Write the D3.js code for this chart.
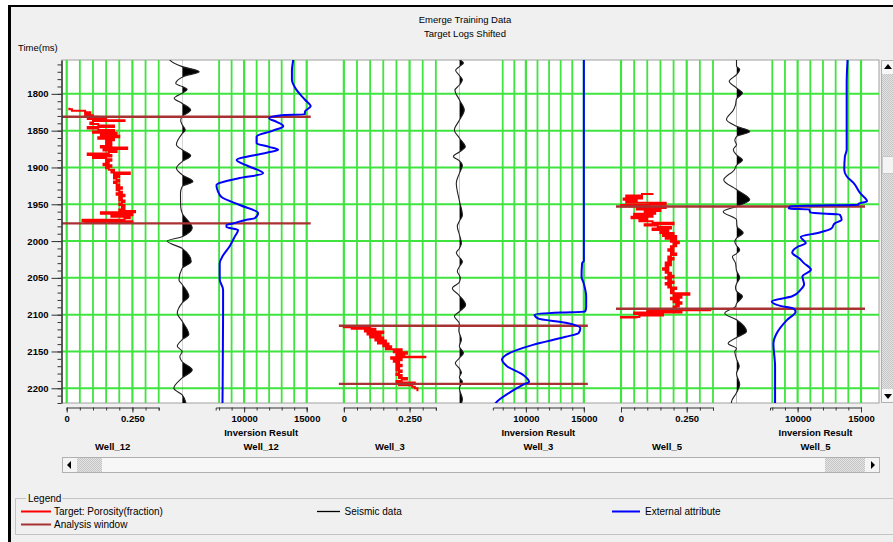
<!DOCTYPE html>
<html><head><meta charset="utf-8">
<script src="https://cdn.jsdelivr.net/npm/d3@7"></script>
<style>body{margin:0;background:#fff}svg{display:block}text{font-family:"Liberation Sans",Arial,sans-serif}</style>
</head><body><svg id="c" width="893" height="542"></svg>
<script>
// ---------------- DATA ----------------
const titleLines = ["Emerge Training Data", "Target Logs Shifted"];
const wells = ["Well_12", "Well_3", "Well_5"];
const timeDomain = [1754, 2220];
const timeTicks = [1800, 1850, 1900, 1950, 2000, 2050, 2100, 2150, 2200];
const porosityDomain = [0, 0.35];
const porosityGrid = [0, 0.05, 0.10, 0.15, 0.20, 0.25, 0.30, 0.35];
const porosityLabels = [0, 0.25];
const invMin = [7730, 7150, 7820];
const invMax = 15000;
const invGrid = [8000, 9000, 10000, 11000, 12000, 13000, 14000, 15000];
const invLabels = [10000, 15000];
const analysisWindows = [[1831, 1976], [2115, 2194], [1953, 2092]];
const legendItems = ["Target: Porosity(fraction)", "Analysis window", "Seismic data", "External attribute"];

// porosity [time, fraction]
const poro12 = [[1819,0.01],[1821,0.02],[1823,0.07],[1825,0.09],[1827,0.07],[1829,0.10],[1831,0.12],[1832,0.08],[1834,0.15],[1836,0.22],[1837,0.10],[1839,0.09],[1841,0.12],[1843,0.18],[1845,0.08],[1847,0.12],[1849,0.18],[1851,0.10],[1853,0.19],[1855,0.13],[1857,0.20],[1859,0.12],[1861,0.18],[1863,0.15],[1865,0.17],[1867,0.15],[1869,0.17],[1871,0.13],[1873,0.23],[1875,0.14],[1877,0.19],[1879,0.16],[1881,0.08],[1883,0.17],[1885,0.10],[1887,0.15],[1889,0.17],[1891,0.15],[1893,0.16],[1895,0.14],[1897,0.17],[1899,0.15],[1901,0.16],[1903,0.18],[1905,0.17],[1907,0.24],[1909,0.18],[1911,0.20],[1913,0.18],[1915,0.19],[1917,0.20],[1919,0.18],[1921,0.19],[1923,0.20],[1925,0.19],[1927,0.21],[1929,0.19],[1931,0.20],[1933,0.21],[1935,0.19],[1937,0.22],[1939,0.20],[1941,0.21],[1943,0.20],[1945,0.22],[1947,0.21],[1949,0.20],[1951,0.22],[1953,0.21],[1955,0.22],[1957,0.20],[1959,0.26],[1961,0.13],[1963,0.25],[1965,0.17],[1967,0.24],[1969,0.22],[1971,0.06],[1973,0.25],[1974,0.07],[1976,0.07]];
const poro3 = [[2116,0.0],[2117,0.10],[2118,0.03],[2119,0.12],[2121,0.08],[2123,0.15],[2125,0.09],[2127,0.14],[2129,0.10],[2131,0.15],[2133,0.12],[2135,0.16],[2137,0.13],[2139,0.17],[2141,0.15],[2143,0.18],[2145,0.16],[2147,0.22],[2149,0.19],[2151,0.24],[2153,0.20],[2155,0.23],[2157,0.31],[2158,0.18],[2160,0.22],[2162,0.19],[2164,0.21],[2166,0.20],[2168,0.22],[2170,0.20],[2172,0.21],[2174,0.20],[2176,0.22],[2178,0.21],[2180,0.20],[2182,0.22],[2184,0.21],[2186,0.24],[2188,0.22],[2190,0.20],[2192,0.27],[2194,0.21],[2196,0.26],[2198,0.27],[2200,0.28],[2204,0.28]];
const poro5 = [[1935,0.12],[1936,0.08],[1938,0.02],[1940,0.08],[1942,0.01],[1944,0.06],[1946,0.02],[1948,0.17],[1950,0.11],[1951,0.0],[1953,0.17],[1955,0.06],[1957,0.15],[1959,0.09],[1961,0.13],[1963,0.05],[1965,0.12],[1967,0.04],[1969,0.10],[1971,0.07],[1973,0.12],[1975,0.20],[1977,0.09],[1979,0.14],[1981,0.19],[1983,0.12],[1985,0.18],[1987,0.15],[1989,0.20],[1991,0.16],[1993,0.21],[1995,0.17],[1997,0.21],[1999,0.19],[2001,0.22],[2003,0.20],[2005,0.21],[2007,0.19],[2009,0.20],[2011,0.18],[2013,0.20],[2015,0.19],[2017,0.21],[2019,0.19],[2021,0.18],[2023,0.20],[2025,0.18],[2027,0.19],[2029,0.17],[2031,0.19],[2033,0.17],[2035,0.18],[2037,0.16],[2039,0.18],[2041,0.17],[2043,0.19],[2045,0.18],[2047,0.20],[2049,0.17],[2051,0.19],[2053,0.18],[2055,0.20],[2057,0.17],[2059,0.19],[2061,0.18],[2063,0.21],[2065,0.19],[2067,0.20],[2069,0.19],[2071,0.26],[2073,0.20],[2075,0.23],[2077,0.19],[2079,0.22],[2081,0.20],[2083,0.23],[2085,0.21],[2087,0.22],[2089,0.20],[2091,0.21],[2093,0.34],[2094,0.10],[2096,0.23],[2097,0.05],[2099,0.16],[2101,0.07],[2103,0.0],[2104,0.06],[2105,0.06]];

// seismic [time, normalized amplitude]
const seis12 = [[1750,-0.8],[1753,-0.76],[1763,0],[1770,1.0],[1776,0.12],[1786,-0.38],[1790,0],[1794,0.29],[1799,0],[1806,-0.47],[1813,0],[1822,0.5],[1831,0],[1836,-0.09],[1842,0],[1849,0.18],[1854,0],[1869,-0.34],[1876,0],[1884,0.5],[1892,0],[1901,-0.34],[1910,0],[1919,0.63],[1926,0],[1935,-0.1],[1953,-0.09],[1962,0],[1982,0.59],[1994,0],[2000,-0.88],[2010,0],[2028,0.53],[2037,0],[2053,-0.19],[2059,0],[2075,0.39],[2084,0],[2098,-0.29],[2109,0],[2127,0.39],[2134,0],[2143,-0.29],[2150,0],[2157,-0.14],[2164,0],[2175,0.59],[2186,0],[2200,-0.49],[2209,0],[2220,0.22]];
const seis3 = [[1750,-0.1],[1753,0],[1758,0.24],[1763,0],[1768,-0.22],[1775,0],[1781,0.18],[1788,0],[1795,-0.26],[1808,0],[1822,0.29],[1836,0],[1849,-0.29],[1860,0],[1872,0.35],[1879,0],[1885,-0.35],[1891,0],[1897,0.18],[1908,0],[1921,-0.18],[1945,0],[1965,0.18],[1973,0],[1980,-0.12],[1991,0],[2003,0.12],[2010,0],[2016,-0.18],[2022,0],[2028,0.18],[2035,0],[2041,-0.12],[2050,0.06],[2056,0],[2064,-0.41],[2074,0],[2087,0.37],[2096,0],[2102,-0.29],[2112,0],[2122,-0.03],[2134,0.12],[2143,0],[2152,0.24],[2159,0],[2166,-0.24],[2173,0],[2179,0.12],[2185,0],[2191,0.18],[2200,0],[2215,0.18],[2222,0.1]];
const seis5 = [[1750,0],[1762,0],[1767,0.19],[1774,0],[1783,-0.43],[1792,0],[1799,0.35],[1807,0],[1815,-0.06],[1822,-0.18],[1835,-0.59],[1844,0],[1851,0.78],[1858,0],[1863,-0.1],[1869,0],[1876,-0.19],[1883,0],[1890,0.35],[1897,0],[1903,-0.12],[1917,-0.75],[1930,0],[1944,0.78],[1953,0],[1960,-0.78],[1971,0],[1980,0.03],[1989,0.39],[1996,0],[2001,-0.1],[2006,0],[2012,0.19],[2017,0],[2021,-0.24],[2030,-0.06],[2040,0],[2050,0.19],[2058,0],[2063,-0.06],[2068,0],[2075,0.35],[2085,0],[2089,-0.06],[2098,-0.69],[2107,0],[2123,0.59],[2131,0],[2139,-0.49],[2146,0],[2150,-0.1],[2160,0],[2170,0.16],[2180,0],[2195,0.19],[2206,0],[2218,-0.29],[2222,-0.3]];

// external attribute [time, value]
const ext12 = [[1750,13950],[1753,13930],[1768,13820],[1781,13820],[1795,14200],[1808,14860],[1817,15320],[1824,14860],[1828,14850],[1829,13000],[1833,12000],[1838,12600],[1844,13130],[1850,12300],[1858,11000],[1867,11000],[1872,12000],[1876,12720],[1880,11800],[1890,9400],[1898,10300],[1908,11520],[1915,9500],[1924,7790],[1932,7900],[1940,8190],[1951,9650],[1962,11120],[1969,10850],[1971,10190],[1976,9100],[1978,8590],[1981,8590],[1985,9520],[1994,9250],[2007,8850],[2020,8300],[2030,8050],[2052,8050],[2066,8320],[2098,8320],[2222,8270]];
const ext3 = [[1750,15000],[2027,15000],[2030,14850],[2048,14800],[2058,15000],[2075,15200],[2090,15200],[2096,15100],[2097,13010],[2100,10750],[2105,11030],[2111,13430],[2118,14700],[2125,14550],[2130,13430],[2141,10610],[2154,8370],[2161,7940],[2170,8370],[2182,9770],[2191,10270],[2195,9770],[2204,8790],[2218,7520],[2222,7300]];
const ext5 = [[1750,13950],[1786,13870],[1876,13870],[1885,13730],[1903,13680],[1912,13870],[1921,14410],[1935,14940],[1946,15480],[1949,14810],[1951,14800],[1951.5,12520],[1953,9400],[1956,9300],[1957,10900],[1961,11000],[1962,11310],[1964,13330],[1971,13470],[1976,12930],[1983,12660],[1989,11590],[1994,10240],[2003,10640],[2007,10100],[2016,9570],[2023,10100],[2030,10500],[2039,11050],[2048,10380],[2059,10510],[2066,10240],[2075,9570],[2082,7960],[2088,8630],[2092,9700],[2096,9840],[2107,9170],[2125,8360],[2139,8090],[2170,8220],[2222,8220]];

const porosity = [poro12, poro3, poro5];
const seismic = [seis12, seis3, seis5];
const external = [ext12, ext3, ext5];

// ---------------- DRAW ----------------
const W = 893, H = 542;
const svg = d3.select("#c");
const plot = {l: 62, t: 60, r: 879, b: 403};
const GREEN = "#3fe43f", RED = "#ff0000", BLUE = "#0000ff", WIN = "#a83232";
const FONT = "'Liberation Sans', Arial, sans-serif";

const defs = svg.append("defs");
defs.append("clipPath").attr("id", "plotClip").append("rect")
  .attr("x", plot.l).attr("y", plot.t).attr("width", plot.r - plot.l).attr("height", plot.b - plot.t);
const pat = defs.append("pattern").attr("id", "dots").attr("width", 2).attr("height", 2).attr("patternUnits", "userSpaceOnUse");
pat.append("rect").attr("width", 2).attr("height", 2).attr("fill", "#e4e4e4");
pat.append("rect").attr("width", 1).attr("height", 1).attr("fill", "#c4c4c4");
pat.append("rect").attr("x", 1).attr("y", 1).attr("width", 1).attr("height", 1).attr("fill", "#c4c4c4");

// window background and border
svg.append("rect").attr("width", W).attr("height", H).attr("fill", "#ffffff");
svg.append("rect").attr("x", 8).attr("y", 5).attr("width", W - 8).attr("height", H - 5).attr("fill", "#f0f0f0");
svg.append("rect").attr("x", 8).attr("y", 5).attr("width", 3).attr("height", H - 5).attr("fill", "#000");
svg.append("rect").attr("x", 8).attr("y", 5).attr("width", W - 8).attr("height", 2).attr("fill", "#000");

// title
svg.append("g").selectAll("text").data(titleLines).join("text")
  .attr("x", 465).attr("y", (d, i) => 22.5 + i * 14).attr("text-anchor", "middle")
  .attr("font-size", 9.5).attr("fill", "#000").text(d => d);
svg.append("text").attr("x", 18).attr("y", 51).attr("font-size", 9.5).text("Time(ms)");

// plot area
svg.append("rect").attr("x", plot.l).attr("y", plot.t).attr("width", plot.r - plot.l).attr("height", plot.b - plot.t)
  .attr("fill", "#fff").attr("stroke", "#a0a0a0").attr("stroke-width", 1);

const y = d3.scaleLinear().domain(timeDomain).range([plot.t, plot.b]);
const panelX = d3.scalePoint().domain(wells).range([66.7, 621]);

const gPlot = svg.append("g").attr("clip-path", "url(#plotClip)");
const gGrid = gPlot.append("g");
gGrid.selectAll("line.h").data(timeTicks).join("line").attr("class", "h")
  .attr("x1", plot.l).attr("x2", plot.r).attr("y1", d => y(d)).attr("y2", d => y(d))
  .attr("stroke", GREEN).attr("stroke-width", 2);

// left axis
const gy = svg.append("g").attr("transform", `translate(${plot.l - 0.5},0)`);
gy.call(d3.axisLeft(y).tickValues(d3.range(1760, 2221, 10)).tickSize(4).tickSizeOuter(0).tickFormat(""));
gy.append("g").call(d3.axisLeft(y).tickValues(timeTicks).tickSize(10).tickPadding(3).tickSizeOuter(0).tickFormat(d3.format("d")))
  .call(g => g.select(".domain").remove());
gy.selectAll("text").attr("font-family", FONT).attr("font-size", 9.5).attr("font-weight", "bold").attr("fill", "#000");
gy.selectAll("line,path").attr("stroke", "#333");
gy.select(".domain").attr("stroke-width", 1.5);

const AXIS_Y = 407.5;
const fmtP = d => d === 0 ? "0" : d3.format(".3f")(d);

wells.forEach((w, i) => {
  const x0 = panelX(w);
  const xp = d3.scaleLinear().domain(porosityDomain).range([x0, x0 + 92]);
  const xi = d3.scaleLinear().domain([invMin[i], invMax]).range([x0 + 149, x0 + 240]);
  const base = x0 + 115.5;
  const xs = d3.scaleLinear().domain([-1, 1]).range([base - 17, base + 17]);

  // vertical grid
  gGrid.append("g").selectAll("line").data(porosityGrid).join("line")
    .attr("x1", d => xp(d)).attr("x2", d => xp(d)).attr("y1", plot.t).attr("y2", plot.b)
    .attr("stroke", GREEN).attr("stroke-width", d => (d === 0 || d === 0.25) ? 2.2 : 1.8);
  gGrid.append("g").selectAll("line").data(invGrid).join("line")
    .attr("x1", d => xi(d)).attr("x2", d => xi(d)).attr("y1", plot.t).attr("y2", plot.b)
    .attr("stroke", GREEN).attr("stroke-width", d => (d === 10000 || d === 15000) ? 2.2 : 1.8);

  // seismic wiggle
  const cid = "sc" + i;
  defs.append("clipPath").attr("id", cid).append("rect")
    .attr("x", base).attr("y", plot.t).attr("width", 40).attr("height", plot.b - plot.t);
  const area = d3.area().curve(d3.curveMonotoneY).y(d => y(d[0])).x0(base).x1(d => xs(d[1]));
  gPlot.append("path").datum(seismic[i]).attr("d", area).attr("fill", "#000").attr("clip-path", `url(#${cid})`);
  const sline = d3.line().curve(d3.curveMonotoneY).y(d => y(d[0])).x(d => xs(d[1]));
  gPlot.append("path").datum(seismic[i]).attr("d", sline).attr("fill", "none").attr("stroke", "#222").attr("stroke-width", 1.1);

  // porosity
  const pline = d3.line().curve(d3.curveStepBefore).y(d => y(d[0])).x(d => xp(d[1]));
  gPlot.append("path").datum(porosity[i]).attr("d", pline).attr("fill", "none")
    .attr("stroke", RED).attr("stroke-width", 2);

  // analysis window
  gPlot.append("g").selectAll("line").data(analysisWindows[i]).join("line")
    .attr("x1", x0 - 5).attr("x2", x0 + 244).attr("y1", d => y(d)).attr("y2", d => y(d))
    .attr("stroke", WIN).attr("stroke-width", 2.4);

  // external attribute
  const eline = d3.line().curve(d3.curveMonotoneY).y(d => y(d[0])).x(d => xi(d[1]));
  gPlot.append("path").datum(external[i]).attr("d", eline).attr("fill", "none")
    .attr("stroke", BLUE).attr("stroke-width", 2);

  // bottom axes
  const ga = svg.append("g").attr("transform", `translate(0,${AXIS_Y})`);
  ga.append("g").call(d3.axisBottom(xp).tickValues(porosityGrid).tickSize(3).tickSizeOuter(3).tickFormat(""));
  ga.append("g").call(d3.axisBottom(xp).tickValues(porosityLabels).tickSize(5).tickPadding(3).tickFormat(fmtP))
    .call(g => g.select(".domain").remove());
  ga.append("g").call(d3.axisBottom(xi).tickValues(invGrid).tickSize(3).tickSizeOuter(3).tickFormat(""));
  ga.append("g").call(d3.axisBottom(xi).tickValues(invLabels).tickSize(5).tickPadding(3).tickFormat(d3.format("d")))
    .call(g => g.select(".domain").remove());
  ga.selectAll("text").attr("font-family", FONT).attr("font-size", 9.5).attr("font-weight", "bold").attr("fill", "#000");
  ga.selectAll("line,path").attr("stroke", "#333");

  const cp = (porosityDomain[0] + porosityDomain[1]) / 2;
  const ci = (invMin[i] + invMax) / 2;
  svg.append("text").attr("x", xi(ci)).attr("y", 435.5).attr("text-anchor", "middle")
    .attr("font-size", 9.5).attr("font-weight", "bold").text("Inversion Result");
  svg.append("text").attr("x", xp(cp)).attr("y", 449.5).attr("text-anchor", "middle")
    .attr("font-size", 9.5).attr("font-weight", "bold").text(w);
  svg.append("text").attr("x", xi(ci)).attr("y", 449.5).attr("text-anchor", "middle")
    .attr("font-size", 9.5).attr("font-weight", "bold").text(w);
});

// horizontal scrollbar
const hs = svg.append("g");
hs.append("rect").attr("x", 62.5).attr("y", 457.5).attr("width", 817).attr("height", 15).attr("fill", "#f7f7f7").attr("stroke", "#b0b0b0");
hs.append("rect").attr("x", 63).attr("y", 458).attr("width", 14).attr("height", 14).attr("fill", "#f4f4f4");
hs.append("rect").attr("x", 77).attr("y", 458).attr("width", 25).attr("height", 14).attr("fill", "url(#dots)");
hs.append("rect").attr("x", 825).attr("y", 458).attr("width", 40).attr("height", 14).attr("fill", "url(#dots)");
hs.append("rect").attr("x", 865).attr("y", 458).attr("width", 14).attr("height", 14).attr("fill", "#f4f4f4");
hs.append("path").attr("d", "M67,465 L71,461 L71,469 Z").attr("fill", "#000");
hs.append("path").attr("d", "M875,465 L871,461 L871,469 Z").attr("fill", "#000");

// vertical scrollbar
const vs = svg.append("g");
vs.append("rect").attr("x", 881.5).attr("y", 60.5).attr("width", 14).attr("height", 342).attr("fill", "#f7f7f7").attr("stroke", "#b0b0b0");
vs.append("rect").attr("x", 882).attr("y", 74).attr("width", 12).attr("height", 82).attr("fill", "url(#dots)");
vs.append("rect").attr("x", 882.5).attr("y", 156.5).attr("width", 11).attr("height", 17).attr("fill", "#f4f4f4").attr("stroke", "#c8c8c8");
vs.append("rect").attr("x", 882).attr("y", 174).attr("width", 12).attr("height", 215).attr("fill", "url(#dots)");
vs.append("path").attr("d", "M888,64 L884,69 L892,69 Z").attr("fill", "#000");
vs.append("path").attr("d", "M888,399 L884,394 L892,394 Z").attr("fill", "#000");

// legend
const lg = svg.append("g");
lg.append("rect").attr("x", 15.5).attr("y", 498.5).attr("width", 900).attr("height", 36).attr("fill", "none").attr("stroke", "#c4c4c4");
lg.append("rect").attr("x", 26).attr("y", 492).attr("width", 36).attr("height", 12).attr("fill", "#f0f0f0");
lg.append("text").attr("x", 28).attr("y", 501.5).attr("font-size", 10).text("Legend");
const legPos = [[21, 51, 511.5, 54, RED, 2], [21, 51, 524.5, 54, WIN, 2], [317, 340, 511.5, 344.5, "#000", 1.3], [612, 640, 511.5, 645, BLUE, 2]];
legendItems.forEach((t, i) => {
  const p = legPos[i];
  lg.append("line").attr("x1", p[0]).attr("x2", p[1]).attr("y1", p[2]).attr("y2", p[2]).attr("stroke", p[4]).attr("stroke-width", p[5]);
  lg.append("text").attr("x", p[3]).attr("y", p[2] + 3.5).attr("font-size", 10).text(t);
});
</script></body></html>
